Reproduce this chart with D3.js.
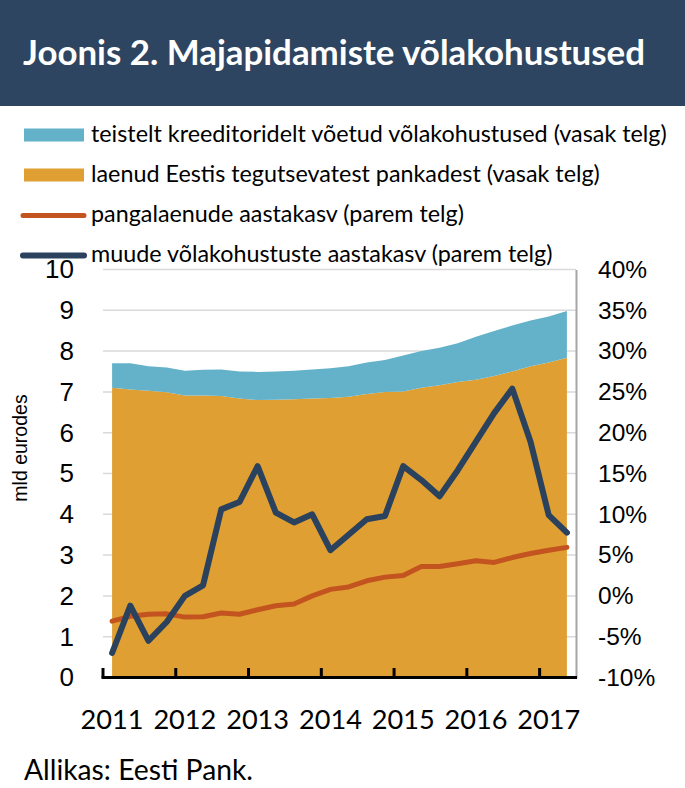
<!DOCTYPE html>
<html>
<head>
<meta charset="utf-8">
<script src="https://cdn.jsdelivr.net/npm/d3@7"></script>
<style>
  html, body { margin: 0; padding: 0; background: #ffffff; }
  svg { display: block; }
</style>
</head>
<body>
<svg id="chart" width="685" height="788"></svg>
<script>
// ---------------- DATA ----------------
const quarters = ["2011Q1","2011Q2","2011Q3","2011Q4","2012Q1","2012Q2","2012Q3","2012Q4",
  "2013Q1","2013Q2","2013Q3","2013Q4","2014Q1","2014Q2","2014Q3","2014Q4",
  "2015Q1","2015Q2","2015Q3","2015Q4","2016Q1","2016Q2","2016Q3","2016Q4",
  "2017Q1","2017Q2"];
const yearLabels = ["2011","2012","2013","2014","2015","2016","2017"];
// laenud Eestis tegutsevatest pankadest (mld eurot)
const bankLoans = [7.10,7.06,7.03,6.99,6.91,6.91,6.90,6.84,6.80,6.81,6.82,6.84,6.85,6.88,6.95,7.00,
  7.01,7.10,7.16,7.24,7.30,7.39,7.50,7.63,7.72,7.84];
// teistelt kreeditoridelt võetud võlakohustused (mld eurot)
const otherLiab = [0.60,0.64,0.60,0.61,0.61,0.63,0.65,0.66,0.69,0.69,0.70,0.71,0.73,0.75,0.77,0.78,
  0.88,0.90,0.92,0.95,1.05,1.10,1.13,1.12,1.13,1.14];
// pangalaenude aastakasv (%)
const bankGrowth = [-3.1,-2.5,-2.25,-2.2,-2.6,-2.55,-2.1,-2.25,-1.7,-1.2,-1.0,0.0,0.8,1.1,1.85,2.3,
  2.5,3.6,3.6,3.95,4.3,4.1,4.7,5.2,5.6,5.95];
// muude võlakohustuste aastakasv (%)
const otherGrowth = [-7.0,-1.2,-5.5,-3.2,0.0,1.3,10.6,11.5,15.9,10.2,9.0,10.0,5.6,7.5,9.4,9.8,
  15.9,14.2,12.2,15.4,18.9,22.4,25.4,18.9,9.9,7.75];
const leftTicks = [0,1,2,3,4,5,6,7,8,9,10];
const rightTicks = [-10,-5,0,5,10,15,20,25,30,35,40];
const legendLabels = [
  "teistelt kreeditoridelt võetud võlakohustused (vasak telg)",
  "laenud Eestis tegutsevatest pankadest (vasak telg)",
  "pangalaenude aastakasv (parem telg)",
  "muude võlakohustuste aastakasv (parem telg)"
];
const titleText = "Joonis 2. Majapidamiste võlakohustused";
const sourceText = "Allikas: Eesti Pank.";
const yAxisLabel = "mld eurodes";

// ---------------- STYLE ----------------
const C = {
  bar: "#2d4560",
  teal: "#63b2c9",
  orange: "#df9f33",
  orangeLine: "#c3541f",
  navyLine: "#2a425d",
  grid: "#d9d9d9",
  axisGray: "#a6a6a6"
};
const calibriLike = "Lato, 'Open Sans', sans-serif";
const arialLike = "'Liberation Sans', Arial, sans-serif";

const svg = d3.select("#chart");

function fitWidth(sel, target) {
  const w = sel.node().getComputedTextLength();
  const fs = parseFloat(sel.attr("font-size"));
  sel.attr("font-size", (fs * target / w).toFixed(2));
}

// ---------------- TITLE BAR ----------------
svg.append("rect").attr("x", 0).attr("y", 0).attr("width", 685).attr("height", 106).attr("fill", C.bar);
const title = svg.append("text").attr("x", 23).attr("y", 65)
  .attr("font-family", calibriLike).attr("font-weight", 700).attr("font-size", 33)
  .attr("fill", "#ffffff").text(titleText);
fitWidth(title, 622);

// ---------------- SCALES ----------------
const x = d3.scaleBand().domain(d3.range(quarters.length)).range([103, 576]).padding(0);
const bw = x.bandwidth();
const cx = i => x(i) + bw / 2;
const yL = d3.scaleLinear().domain([0, 10]).range([677.5, 269.5]);
const yR = d3.scaleLinear().domain([-10, 40]).range([677.5, 269.5]);

// gridlines
svg.append("g").selectAll("line").data(leftTicks.filter(d => d > 0)).join("line")
  .attr("x1", 103).attr("x2", 576)
  .attr("y1", d => yL(d)).attr("y2", d => yL(d))
  .attr("stroke", C.grid).attr("stroke-width", 1.5);

// ---------------- AREAS ----------------
const table = quarters.map((q, i) => ({ q, i, bank: bankLoans[i], other: otherLiab[i] }));
const stack = d3.stack().keys(["bank", "other"]);
const series = stack(table);
const area = d3.area()
  .x(d => cx(d.data.i))
  .y0(d => yL(d[0]))
  .y1(d => yL(d[1]));
const areaColors = { bank: C.orange, other: C.teal };
svg.append("g").selectAll("path").data(series).join("path")
  .attr("d", area).attr("fill", d => areaColors[d.key]);

// ---------------- LINES ----------------
const line = d3.line().x((d, i) => cx(i)).y(d => yR(d));
svg.append("path").datum(bankGrowth).attr("d", line)
  .attr("fill", "none").attr("stroke", C.orangeLine).attr("stroke-width", 5)
  .attr("stroke-linejoin", "round").attr("stroke-linecap", "round");
svg.append("path").datum(otherGrowth).attr("d", line)
  .attr("fill", "none").attr("stroke", C.navyLine).attr("stroke-width", 6)
  .attr("stroke-linejoin", "round").attr("stroke-linecap", "round");

// ---------------- AXES ----------------
// left axis labels
const gL = svg.append("g").attr("transform", "translate(103,0)")
  .call(d3.axisLeft(yL).tickValues(leftTicks).tickSize(0).tickPadding(29).tickFormat(d3.format("d")));
gL.select(".domain").remove();
gL.selectAll("text").attr("font-family", arialLike).attr("font-size", 26).attr("fill", "#000");

// right axis
const gR = svg.append("g").attr("transform", "translate(576,0)")
  .call(d3.axisRight(yR).tickValues(rightTicks).tickSizeInner(0).tickSizeOuter(0).tickPadding(22)
    .tickFormat(d => d + "%"));
gR.select(".domain").attr("stroke", C.axisGray).attr("stroke-width", 2);
gR.selectAll("text").attr("font-family", arialLike).attr("font-size", 24.5).attr("fill", "#000");

// bottom axis
const gB = svg.append("g");
gB.append("line").attr("x1", 101.5).attr("x2", 577).attr("y1", 677.5).attr("y2", 677.5)
  .attr("stroke", "#000").attr("stroke-width", 3);
const yearIdx = yearLabels.map((y, k) => k * 4);
gB.selectAll("line.tick").data(yearIdx).join("line").attr("class", "tick")
  .attr("x1", d => x(d)).attr("x2", d => x(d))
  .attr("y1", 668).attr("y2", 677.5)
  .attr("stroke", "#000").attr("stroke-width", 3);
const yl = gB.selectAll("text").data(yearLabels).join("text")
  .attr("x", (d, k) => cx(k * 4)).attr("y", 729)
  .attr("text-anchor", "middle")
  .attr("font-family", calibriLike).attr("font-size", 27).attr("fill", "#000")
  .text(d => d);
// fit year label size to reference width
{
  const w = yl.nodes()[0].getComputedTextLength();
  const fs = 27 * 63 / w;
  yl.attr("font-size", fs.toFixed(2));
}

// y axis title
svg.append("text").attr("transform", "translate(27,448) rotate(-90)")
  .attr("text-anchor", "middle").attr("font-family", arialLike).attr("font-size", 19.5)
  .attr("fill", "#000").text(yAxisLabel);

// ---------------- LEGEND ----------------
const legendY = [135, 175, 215.5, 255.5];
const lg = svg.append("g");
lg.append("rect").attr("x", 24).attr("y", legendY[0] - 6.5).attr("width", 60).attr("height", 13).attr("fill", C.teal);
lg.append("rect").attr("x", 24).attr("y", legendY[1] - 6.5).attr("width", 60).attr("height", 13).attr("fill", C.orange);
lg.append("line").attr("x1", 23).attr("x2", 84).attr("y1", legendY[2]).attr("y2", legendY[2])
  .attr("stroke", C.orangeLine).attr("stroke-width", 5).attr("stroke-linecap", "round");
lg.append("line").attr("x1", 23).attr("x2", 84).attr("y1", legendY[3]).attr("y2", legendY[3])
  .attr("stroke", C.navyLine).attr("stroke-width", 6).attr("stroke-linecap", "round");
const lt = lg.selectAll("text").data(legendLabels).join("text")
  .attr("x", 91).attr("y", (d, i) => legendY[i] + 6.7)
  .attr("font-family", calibriLike).attr("font-size", 20).attr("fill", "#000")
  .text(d => d);
{
  const w = lt.nodes()[0].getComputedTextLength();
  lt.attr("font-size", (20 * 576 / w).toFixed(2));
}

// ---------------- SOURCE ----------------
const src = svg.append("text").attr("x", 24).attr("y", 780)
  .attr("font-family", calibriLike).attr("font-size", 28).attr("fill", "#000").text(sourceText);
fitWidth(src, 229);
</script>
</body>
</html>
